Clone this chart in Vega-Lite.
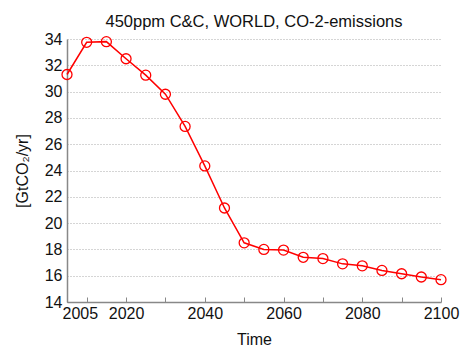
{
  "$schema": "https://vega.github.io/schema/vega-lite/v6.json",
  "autosize": {"type": "none"},
  "width": 374,
  "height": 263,
  "padding": {"left": 67, "top": 39, "right": 19, "bottom": 45},
  "background": "white",
  "config": {
    "view": {"stroke": null},
    "font": "Liberation Sans",
    "axis": {"labelFont": "Liberation Sans", "titleFont": "Liberation Sans", "labelColor": "#111", "titleColor": "#111", "labelFontSize": 16, "titleFontSize": 16, "titleFontWeight": "normal", "domainColor": "#888", "domainWidth": 1.5, "tickColor": "#888"}
  },
  "title": {"text": "450ppm C&C, WORLD, CO-2-emissions", "fontSize": 16.5, "fontWeight": "normal", "font": "Liberation Sans", "color": "#111", "offset": 1, "anchor": "middle"},
  "data": {"values": [
    {"year": 2005, "value": 31.3},
    {"year": 2010, "value": 33.75},
    {"year": 2015, "value": 33.8},
    {"year": 2020, "value": 32.5},
    {"year": 2025, "value": 31.25},
    {"year": 2030, "value": 29.8},
    {"year": 2035, "value": 27.35},
    {"year": 2040, "value": 24.35},
    {"year": 2045, "value": 21.15},
    {"year": 2050, "value": 18.5},
    {"year": 2055, "value": 18.0},
    {"year": 2060, "value": 17.95},
    {"year": 2065, "value": 17.4},
    {"year": 2070, "value": 17.3},
    {"year": 2075, "value": 16.9},
    {"year": 2080, "value": 16.75},
    {"year": 2085, "value": 16.4},
    {"year": 2090, "value": 16.15},
    {"year": 2095, "value": 15.9},
    {"year": 2100, "value": 15.7}
  ]},
  "encoding": {
    "x": {"field": "year", "type": "quantitative",
      "scale": {"domain": [2005, 2100], "nice": false, "zero": false},
      "axis": {"title": "Time", "values": [2005, 2010, 2020, 2030, 2040, 2050, 2060, 2070, 2080, 2090, 2100],
        "labelExpr": "datum.value == 2005 || datum.value % 20 == 0 ? datum.label : ''",
        "format": "d", "grid": false, "tickSize": -5, "labelPadding": 8,
        "labelAlign": {"expr": "datum.value == 2005 ? 'left' : 'center'"},
        "labelOffset": {"expr": "datum.value == 2005 ? -5 : 0"},
        "labelFlush": false, "labelOverlap": false, "titlePadding": 10}},
    "y": {"field": "value", "type": "quantitative",
      "scale": {"domain": [14, 34], "nice": false, "zero": false},
      "axis": {"title": "[GtCO₂/yr]", "values": [14, 16, 18, 20, 22, 24, 26, 28, 30, 32, 34],
        "grid": true, "gridDash": [1, 2], "gridColor": "#aaa", "gridWidth": 1,
        "ticks": false, "labelPadding": 5, "titlePadding": 14}}
  },
  "layer": [
    {"mark": {"type": "line", "color": "#ff0000", "strokeWidth": 1.5}},
    {"mark": {"type": "point", "shape": "circle", "filled": false, "color": "#ff0000", "strokeWidth": 1.3, "size": 100, "opacity": 1}}
  ]
}
